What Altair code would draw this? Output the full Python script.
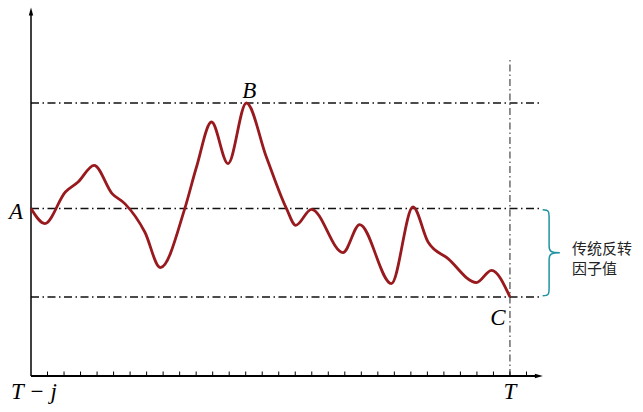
import altair as alt
import pandas as pd

# ---- data ----
curve_x = [0, 0.84, 2.08, 2.85, 3.82, 4.91, 5.68, 6.89, 7.83, 9.31, 10.02, 10.93, 11.93, 13.04,
           14.25, 15.47, 16.03, 16.98, 18.89, 19.90, 21.82, 23.13, 24.04, 25.25, 26.97, 27.88, 29]
curve_y = [16.74, 15.24, 18.40, 19.40, 21.07, 18.24, 17.24, 14.40, 10.84, 16.74, 20.9, 25.40, 21.24, 27.3,
           21.9, 16.74, 15.07, 16.67, 12.34, 15.14, 9.24, 16.90, 13.40, 11.74, 9.34, 10.57, 7.90]
level_names = ["B", "A", "C"]
level_values = [27.3, 16.74, 7.9]
tick_positions = list(range(1, 31))
T_pos = 29
x_max = 31
y_max = 36.6
label_lines = ["传统反转", "因子值"]

curve_df = pd.DataFrame({"x": curve_x, "y": curve_y})
levels_df = pd.DataFrame({"name": level_names, "y": level_values})
ticks_df = pd.DataFrame({"x": tick_positions})

xs = alt.Scale(domain=[0, x_max])
ys = alt.Scale(domain=[0, y_max])

def X(v):
    return alt.X(datum=v, scale=xs, axis=None)

def Y(v):
    return alt.Y(datum=v, scale=ys, axis=None)

# axes
x_axis = alt.Chart().mark_rule(color="black", strokeWidth=2).encode(x=X(0), x2=alt.X2(datum=30.6), y=Y(0))
y_axis = alt.Chart().mark_rule(color="black", strokeWidth=1.5).encode(x=X(0), y=Y(0), y2=alt.Y2(datum=36.2))
y_arrow = alt.Chart().mark_point(shape="M 0 -1 L 0.55 1 L -0.55 1 Z", filled=True, color="black",
                                 opacity=1, size=64).encode(x=X(0), y=Y(36.45))
x_arrow = alt.Chart().mark_point(shape="M 1 0 L -1 0.55 L -1 -0.55 Z", filled=True, color="black",
                                 opacity=1, size=64).encode(x=X(30.75), y=Y(0))
ticks = alt.Chart(ticks_df).mark_rule(color="black", strokeWidth=1).encode(
    x=alt.X("x:Q", scale=xs, axis=None), y=Y(0), y2=alt.Y2(datum=0.45))

# level lines
levels = alt.Chart(levels_df).mark_rule(color="#111", strokeWidth=1.5, strokeDash=[8, 3.5, 1.5, 3.5]).encode(
    x=X(0), x2=alt.X2(datum=30.85), y=alt.Y("y:Q", scale=ys, axis=None))
vline = alt.Chart().mark_rule(color="#222", strokeWidth=1, strokeDash=[7, 3, 1.5, 3]).encode(
    x=X(T_pos), y=Y(0), y2=alt.Y2(datum=31.6))

# curve
curve = alt.Chart(curve_df).mark_line(color="#981a1e", strokeWidth=2.8, interpolate="monotone").encode(
    x=alt.X("x:Q", scale=xs, axis=None), y=alt.Y("y:Q", scale=ys, axis=None))

font = "Liberation Serif"
lab = dict(font=font, fontStyle="italic", fontSize=23, color="black")
A_lab = alt.Chart().mark_text(text="A", align="center", baseline="middle", dx=-15, dy=3, **lab).encode(
    x=X(0), y=Y(level_values[1]))
B_lab = alt.Chart().mark_text(text="B", align="center", baseline="middle", dx=3, dy=-12, **lab).encode(
    x=X(13.04), y=Y(level_values[0]))
C_lab = alt.Chart().mark_text(text="C", align="center", baseline="middle", dx=-12, dy=21, **lab).encode(
    x=X(T_pos), y=Y(level_values[2]))
Tj_lab = alt.Chart().mark_text(text="T − j", align="center", baseline="top", dx=3, dy=5, **lab).encode(
    x=X(0), y=Y(0))
T_lab = alt.Chart().mark_text(text="T", align="center", baseline="top", dx=0, dy=5, **lab).encode(
    x=X(T_pos), y=Y(0))

# brace and annotation
mid = (level_values[1] + level_values[2]) / 2
brace_path = ("M -0.2 -1 C -0.05 -1 -0.05 -0.95 -0.05 -0.8 L -0.05 -0.15 C -0.05 -0.03 0 0 0.2 0 "
              "C 0 0 -0.05 0.03 -0.05 0.15 L -0.05 0.8 C -0.05 0.95 -0.05 1 -0.2 1")
brace = alt.Chart().mark_point(shape=brace_path, filled=False, stroke="#1f93a3", strokeWidth=1.5,
                               opacity=1, size=7396).encode(x=X(31.5), y=Y(mid))
cjk = dict(font="Noto Sans CJK SC", fontSize=15, color="#222", align="left", baseline="middle")
line1 = alt.Chart().mark_text(text=label_lines[0], dx=62, dy=-4, **cjk).encode(x=X(T_pos), y=Y(mid))
line2 = alt.Chart().mark_text(text=label_lines[1], dx=62, dy=16, **cjk).encode(x=X(T_pos), y=Y(mid))

chart = alt.layer(
    levels, vline, ticks, x_axis, y_axis, x_arrow, y_arrow, curve,
    A_lab, B_lab, C_lab, Tj_lab, T_lab, brace, line1, line2
).properties(
    width=512, height=366,
    autosize=alt.AutoSizeParams(type="none"),
    padding={"left": 31, "top": 10, "right": 100, "bottom": 36},
    background="white",
).configure_view(stroke=None)

chart.save("out.html", embed_options={"renderer": "svg", "actions": False})
